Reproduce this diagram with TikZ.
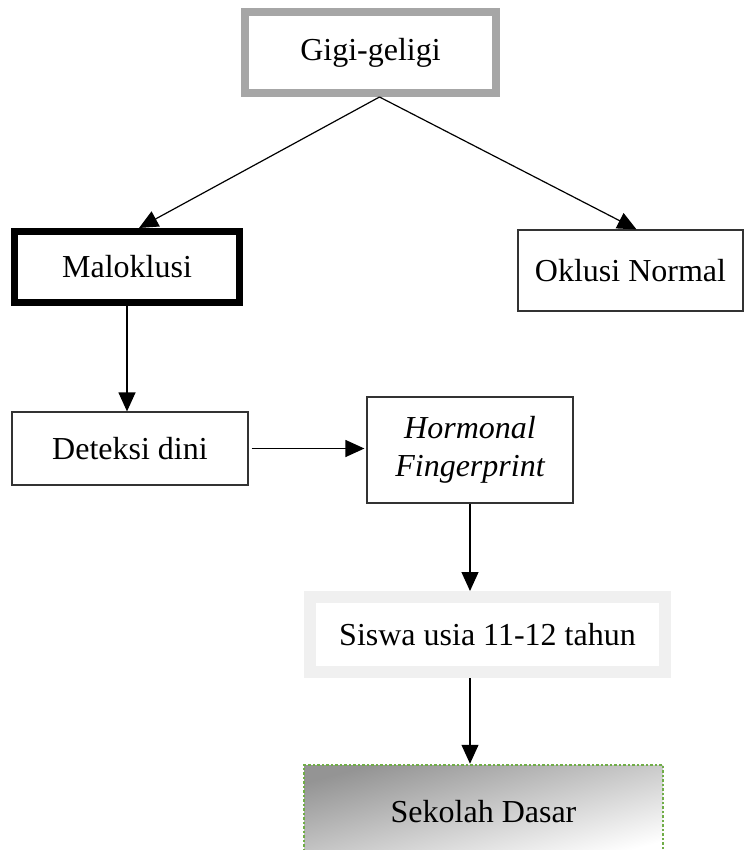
\documentclass[tikz,border=0pt]{standalone}
\usepackage{fontspec}
\setmainfont{Liberation Serif}
\usepackage{tikz}
\usetikzlibrary{arrows.meta,positioning}
\definecolor{frameGray}{RGB}{166,166,166}
\definecolor{paleGray}{RGB}{240,240,240}
\definecolor{dotGreen}{RGB}{112,173,71}

\begin{document}
\begin{tikzpicture}[x=1pt, y=-1pt,
        box/.style={draw=black!80, line width=1.2pt, fill=white, inner sep=0pt,
          align=center, font=\fontsize{32}{38}\selectfont},
        arr/.style={-{Triangle[length=19pt,width=17pt]}, line width=1.2pt}
      ]
        \clip (0,0) rectangle (744,850);
        \node[box, draw=frameGray, line width=8pt, minimum width=251pt, minimum height=81pt] (gigi) at (370.5,52.5) {Gigi-geligi};
        \node[box, draw=black, line width=7pt, minimum width=225pt, minimum height=71pt] (malo) at (127,267) {Maloklusi};
        \node[box, minimum width=225pt, minimum height=81pt] (oklusi) at (630.5,270.5) {Oklusi Normal};
        \node[box, minimum width=236pt, minimum height=73pt] (deteksi) at (130,448.5) {Deteksi dini};
        \node[box, minimum width=206pt, minimum height=106pt, font=\fontsize{32}{38}\selectfont\itshape] (hormonal) at (470,450) {Hormonal\\Fingerprint};
        \node[box, draw=paleGray, line width=12pt, minimum width=355pt, minimum height=75pt] (siswa) at (487.5,634.5) {Siswa usia 11-12 tahun};
        \node[box, draw=dotGreen, line width=2.5pt, dash pattern=on 2.5pt off 2pt,
          top color=black!42, bottom color=white, shading angle=15,
          minimum width=359pt, minimum height=94pt] (sekolah) at (483.5,812) {Sekolah Dasar};
        \draw[arr] ([xshift=9pt]gigi.south) -- ([xshift=12pt]malo.north);
        \draw[arr] ([xshift=9pt]gigi.south) -- ([xshift=6pt]oklusi.north);
        \draw[arr] (malo.south) -- (deteksi.north -| malo.south);
        \draw[arr] ([xshift=3pt]deteksi.east) -- ([xshift=-2pt]deteksi.east -| hormonal.west);
        \draw[arr] (hormonal.south) -- (siswa.north -| hormonal.south);
        \draw[arr] (siswa.south -| hormonal.south) -- (sekolah.north -| hormonal.south);
      \end{tikzpicture}
\end{document}
